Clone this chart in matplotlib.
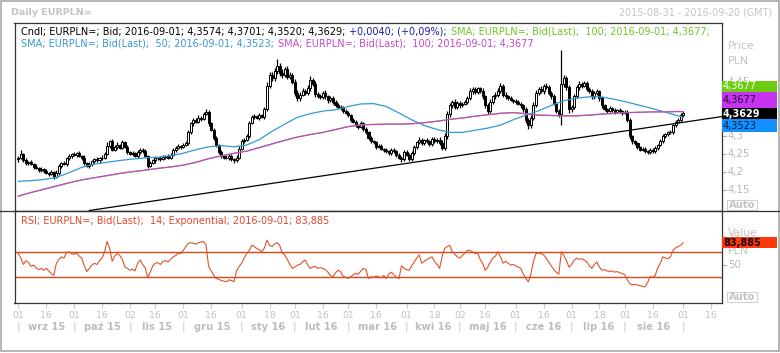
import matplotlib
matplotlib.use("Agg")
import matplotlib.pyplot as plt
from matplotlib.lines import Line2D
from matplotlib.patches import Rectangle
import numpy as np
import pandas as pd

W, H = 780, 353

# trading days shown on the chart (Sep 2015 .. Sep 2016)
dates = pd.bdate_range("2015-09-01", "2016-09-01")
axis_dates = pd.bdate_range("2015-09-01", "2016-09-30")

first_open = 4.235
# daily closes, EUR/PLN bid
closes = [
    4.240, 4.250, 4.232, 4.225, 4.228, 4.222, 4.215, 4.212, 4.205, 4.208, 4.202, 4.198, 4.195, 4.200, 4.186, 4.198,
    4.218, 4.225, 4.222, 4.238, 4.245, 4.250,
    4.248, 4.252, 4.245, 4.240, 4.225, 4.218, 4.222, 4.230, 4.235, 4.232, 4.238, 4.240, 4.250, 4.272, 4.285, 4.262,
    4.270, 4.275, 4.268, 4.282, 4.270, 4.255,
    4.250, 4.252, 4.245, 4.255, 4.262, 4.258, 4.245, 4.218, 4.225, 4.232, 4.238, 4.240, 4.236, 4.242, 4.245, 4.240,
    4.248, 4.262, 4.268, 4.272, 4.270,
    4.275, 4.280, 4.310, 4.335, 4.345, 4.340, 4.350, 4.348, 4.362, 4.368, 4.335, 4.318, 4.295, 4.275, 4.255, 4.245,
    4.240, 4.238, 4.245, 4.235, 4.232, 4.240, 4.265,
    4.285, 4.290, 4.300, 4.335, 4.352, 4.355, 4.350, 4.358, 4.352, 4.375, 4.440, 4.470, 4.460, 4.480, 4.495, 4.475,
    4.470, 4.485, 4.465, 4.470, 4.450,
    4.420, 4.405, 4.415, 4.425, 4.420, 4.432, 4.455, 4.445, 4.418, 4.412, 4.408, 4.420, 4.410, 4.400, 4.405, 4.395,
    4.385, 4.380, 4.378, 4.370, 4.365,
    4.358, 4.345, 4.340, 4.330, 4.325, 4.335, 4.320, 4.310, 4.295, 4.285, 4.282, 4.270, 4.272, 4.265, 4.262, 4.258,
    4.252, 4.262, 4.258, 4.248, 4.240, 4.235, 4.255,
    4.248, 4.236, 4.252, 4.270, 4.282, 4.290, 4.280, 4.288, 4.285, 4.278, 4.292, 4.285, 4.290, 4.280, 4.268, 4.300,
    4.360, 4.385, 4.395, 4.380, 4.392,
    4.385, 4.390, 4.395, 4.405, 4.425, 4.430, 4.422, 4.432, 4.425, 4.410, 4.385, 4.370, 4.395, 4.410, 4.415, 4.425,
    4.440, 4.415, 4.410, 4.405, 4.400, 4.398,
    4.395, 4.390, 4.385, 4.375, 4.345, 4.330, 4.350, 4.385, 4.420, 4.430, 4.425, 4.440, 4.435, 4.420, 4.410, 4.390,
    4.370, 4.360, 4.445, 4.460, 4.435, 4.375,
    4.380, 4.410, 4.435, 4.445, 4.440, 4.448, 4.430, 4.425, 4.410, 4.420, 4.425, 4.405, 4.385, 4.375, 4.370, 4.378,
    4.372, 4.368, 4.372, 4.370, 4.365,
    4.368, 4.345, 4.300, 4.285, 4.280, 4.270, 4.262, 4.265, 4.258, 4.255, 4.262, 4.258, 4.268, 4.275, 4.285, 4.300,
    4.305, 4.310, 4.312, 4.330, 4.340, 4.345, 4.359,
    4.3629,
]
# wick lengths above / below the body, in 0.001 PLN
wick_up = [
    5, 12, 4, 6, 3, 5, 4, 6, 3, 5, 4, 6, 3, 5, 4, 7, 5, 3, 6, 4, 5, 3, 6, 4, 5, 3, 6, 4, 5, 3,
    4, 6, 3, 8, 5, 10, 4, 6, 5, 7, 3, 6, 4, 5, 3, 6, 4, 7, 5, 4, 6, 3, 5, 4, 6, 3, 5, 4, 3, 6,
    4, 5, 3, 6, 4, 5, 7, 6, 5, 6, 4, 7, 5, 6, 8, 4, 5, 3, 6, 4, 5, 3, 6, 4, 5, 3, 6, 8, 6, 5,
    6, 7, 5, 6, 4, 5, 3, 6, 10, 8, 7, 9, 20, 8, 10, 6, 9, 7, 6, 8, 7, 6, 8, 5, 9, 12, 6, 7, 5, 6,
    5, 7, 4, 6, 5, 4, 6, 5, 4, 5, 5, 4, 6, 5, 4, 7, 5, 6, 4, 5, 5, 4, 6, 5, 3, 6, 4, 5, 6, 4,
    5, 4, 6, 5, 4, 6, 5, 4, 7, 5, 4, 6, 5, 4, 5, 4, 6, 8, 7, 10, 8, 6, 7, 5, 6, 4, 5, 6, 7, 5,
    6, 5, 4, 7, 5, 6, 7, 5, 6, 7, 8, 5, 6, 4, 5, 4, 5, 6, 4, 5, 6, 5, 8, 10, 7, 6, 8, 5, 6, 7,
    5, 6, 4, 5, 95, 9, 7, 8, 6, 7, 6, 7, 5, 6, 5, 7, 6, 5, 6, 4, 6, 5, 4, 6, 3, 5, 4, 5, 3, 4,
    5, 6, 4, 5, 4, 3, 5, 4, 3, 5, 4, 5, 3, 6, 5, 4, 5, 6, 4, 5, 6, 5, 7,
]
wick_dn = [
    6, 5, 4, 6, 5, 3, 6, 4, 5, 4, 6, 4, 5, 3, 6, 4, 5, 6, 3, 5, 4, 6, 3, 5, 4, 6, 5, 3, 6, 4,
    5, 3, 6, 4, 5, 4, 6, 5, 3, 6, 4, 5, 3, 6, 4, 5, 3, 6, 4, 5, 4, 7, 5, 3, 6, 4, 5, 3, 6, 4,
    5, 3, 6, 4, 5, 4, 3, 5, 4, 6, 5, 4, 6, 3, 5, 6, 4, 6, 5, 4, 5, 4, 3, 6, 4, 8, 5, 4, 3, 5,
    4, 5, 3, 6, 4, 5, 3, 4, 5, 6, 8, 6, 9, 7, 10, 6, 8, 7, 6, 9, 7, 9, 5, 6, 7, 8, 6, 10, 7, 6,
    5, 6, 7, 5, 6, 4, 5, 6, 5, 4, 6, 5, 4, 6, 5, 4, 7, 5, 6, 4, 5, 6, 4, 5, 6, 4, 5, 4, 6, 5,
    4, 6, 5, 4, 6, 5, 4, 6, 5, 4, 5, 4, 6, 5, 4, 5, 6, 7, 6, 8, 7, 8, 6, 5, 6, 5, 4, 6, 5, 7,
    5, 6, 5, 6, 7, 8, 6, 5, 7, 6, 5, 6, 7, 5, 4, 6, 5, 4, 6, 7, 8, 10, 7, 6, 5, 7, 6, 8, 5, 6,
    7, 5, 6, 8, 30, 9, 8, 10, 7, 6, 5, 6, 7, 5, 6, 5, 7, 6, 5, 8, 6, 5, 6, 4, 5, 6, 4, 5, 6, 5,
    7, 8, 6, 5, 6, 4, 5, 6, 4, 5, 5, 4, 6, 4, 5, 6, 4, 5, 6, 4, 5, 6, 7,
]
# moving averages read every 5 sessions
sma_idx = list(range(0, 261, 5)) + [262]
sma50 = [
    4.174, 4.176, 4.179, 4.185, 4.198, 4.213, 4.222, 4.227, 4.232, 4.236, 4.239, 4.241, 4.245, 4.252, 4.262, 4.270,
    4.273, 4.270, 4.275, 4.290, 4.313, 4.333, 4.352, 4.362, 4.369, 4.373, 4.382, 4.389, 4.390, 4.382, 4.364, 4.345,
    4.329, 4.318, 4.310, 4.310, 4.316, 4.322, 4.330, 4.345, 4.358, 4.370, 4.385, 4.398, 4.405, 4.409, 4.408, 4.402,
    4.394, 4.385, 4.376, 4.366, 4.356, 4.3523,
]
sma100 = [
    4.133, 4.143, 4.152, 4.161, 4.170, 4.178, 4.184, 4.190, 4.196, 4.201, 4.205, 4.210, 4.214, 4.219, 4.227, 4.237,
    4.245, 4.252, 4.258, 4.268, 4.278, 4.288, 4.297, 4.304, 4.310, 4.318, 4.326, 4.331, 4.332, 4.333, 4.333, 4.334,
    4.337, 4.341, 4.346, 4.350, 4.355, 4.359, 4.363, 4.365, 4.362, 4.358, 4.357, 4.356, 4.356, 4.358, 4.361, 4.363,
    4.365, 4.366, 4.367, 4.367, 4.368, 4.3677,
]
rsi = [
    67, 60, 50, 56, 53, 47, 49, 45, 42, 44, 41, 44, 40, 36, 33, 52, 58, 62, 60, 69,
    70, 67, 66, 68, 63, 60, 48, 39, 44, 49, 52, 50, 56, 60, 70, 86, 75, 55, 63, 67,
    64, 58, 46, 44, 41, 43, 40, 52, 57, 50, 45, 30, 38, 48, 52, 53, 50, 55, 56, 54,
    58, 62, 64, 68, 67, 72, 78, 83, 84, 83, 82, 84, 85, 86, 80, 47, 40, 33, 28, 27,
    25, 24, 23, 26, 25, 23, 40, 47, 52, 60, 67, 72, 80, 78, 75, 73, 70, 76, 88, 80,
    78, 82, 84, 80, 68, 65, 58, 50, 44, 46, 49, 50, 54, 57, 50, 44, 46, 47, 44, 45,
    44, 42, 38, 33, 31, 37, 41, 39, 32, 30, 28, 31, 34, 36, 35, 40, 44, 42, 28, 31,
    30, 32, 31, 29, 33, 28, 35, 38, 34, 30, 28, 48, 44, 42, 41, 48, 54, 60, 65, 52,
    55, 58, 60, 62, 55, 50, 44, 62, 75, 78, 80, 70, 66, 62, 60, 64, 68, 72, 72, 70,
    67, 68, 58, 52, 41, 46, 54, 60, 63, 70, 62, 52, 55, 52, 49, 50, 48, 46, 44, 35,
    28, 23, 35, 55, 67, 68, 67, 65, 60, 54, 48, 42, 38, 35, 70, 64, 56, 46, 50, 56,
    60, 58, 59, 57, 54, 48, 44, 50, 54, 46, 41, 42, 40, 39, 40, 38, 39, 37, 36, 34,
    26, 20, 18, 19, 18, 17, 16, 15, 22, 31, 30, 33, 45, 52, 62, 60, 59, 62, 72, 76,
    78, 80, 83.885,
]
# hand-drawn trend line, two anchor points (session index, price)
trend_a = (28.9, 4.094)
trend_b = (277.3, 4.354)

# labels 4,35 and 4,4 sit under the value tags, so only these are visible
price_ticks = [4.15, 4.2, 4.25, 4.3, 4.45]
months_pl = ["sty", "lut", "mar", "kwi", "maj", "cze", "lip", "sie", "wrz", "paź", "lis", "gru"]

GRAY = "#b9b9b9"
LGRAY = "#c4c4c4"
plt.rcParams["font.family"] = ["DejaVu Sans"]


def fx(px):
    return px / W


def fy(py):
    return 1 - py / H


fig = plt.figure(figsize=(W / 100, H / 100), dpi=100)
fig.patch.set_facecolor("white")
renderer = fig.canvas.get_renderer()

L, R, T, M, B = 14.5, 722, 22.7, 210.5, 302.7
ax = fig.add_axes([fx(L), fy(M), fx(R) - fx(L), fy(T) - fy(M)])
rx = fig.add_axes([fx(L), fy(B), fx(R) - fx(L), fy(M) - fy(B)])
xlo, xhi = -1.5, 277.3
for a in (ax, rx):
    a.set_xlim(xlo, xhi)
    a.set_xticks([])
    a.set_yticks([])
    for s in a.spines.values():
        s.set_color("#333333")
        s.set_linewidth(0.9)
ax.set_ylim(4.3 - (M - 136) / 360, 4.3 + (136 - T) / 360)
rx.set_ylim(50 - (B - 264.5) / 0.64, 50 + (264.5 - M) / 0.64)

# candles
idx = np.arange(len(closes))
c = np.array(closes)
o = np.array([first_open] + closes[:-1])
hi = np.maximum(o, c) + np.array(wick_up) / 1000
lo = np.minimum(o, c) - np.array(wick_dn) / 1000
ax.vlines(idx, lo, hi, color="black", lw=0.9, zorder=2)
up = c >= o
ax.bar(idx[up], (c - o)[up], bottom=o[up], width=0.8, color="white", edgecolor="black", lw=0.7, zorder=2)
ax.bar(idx[~up], (o - c)[~up], bottom=c[~up], width=0.8, color="black", edgecolor="black", lw=0.7, zorder=2)

ax.plot(sma_idx, sma50, color="#2f9ad6", lw=0.9, zorder=3)
ax.plot(sma_idx, sma100, color="#7ccc1c", lw=0.9, zorder=3)
ax.plot(sma_idx, sma100, color="#c444d4", lw=0.9, zorder=3)
ax.axline(trend_a, trend_b, color="black", lw=0.9, zorder=3)

# RSI pane
rx.axhline(70, color="#d4481a", lw=1.0)
rx.axhline(30, color="#d4481a", lw=1.0)
rx.plot(idx, rsi, color="#e0532b", lw=0.8)

# pane separator spans the whole width
fig.add_artist(Line2D([0, 1], [fy(M), fy(M)], color="#333333", lw=0.9))


# legends: coloured pieces laid out one after another
def legend_line(x, y, pieces, size=7.0):
    for s, col in pieces:
        t = fig.text(fx(x), fy(y), s, color=col, fontsize=size, va="baseline")
        x = t.get_window_extent(renderer).x1 + 4


legend_line(20.7, 34.5, [
    ("Cndl; EURPLN=; Bid; 2016-09-01; 4,3574; 4,3701; 4,3520; 4,3629;", "black"),
    ("+0,0040; (+0,09%);", "#1c1ca8"),
    ("SMA; EURPLN=; Bid(Last);  100; 2016-09-01; 4,3677;", "#72c424"),
])
legend_line(20.7, 47, [
    ("SMA; EURPLN=; Bid(Last);  50; 2016-09-01; 4,3523;", "#3598d4"),
    ("SMA; EURPLN=; Bid(Last);  100; 2016-09-01; 4,3677", "#c448cc"),
])
legend_line(20.7, 224, [("RSI; EURPLN=; Bid(Last);  14; Exponential; 2016-09-01; 83,885", "#e0482c")])

# header
fig.text(fx(11), fy(12.5), "Daily EURPLN=", color=LGRAY, fontsize=6.8, weight="bold", va="center")
fig.text(fx(772), fy(12.5), "2015-08-31 - 2016-09-20 (GMT)", color=LGRAY, fontsize=6.9,
         ha="right", va="center")

# price axis
ytr = ax.get_yaxis_transform()
for p in price_ticks:
    ax.plot([1, 1 + 4 / (R - L)], [p, p], transform=ytr, color=GRAY, lw=0.8, clip_on=False)
    ax.text(1 + 6 / (R - L), p, f"{p:g}".replace(".", ","), transform=ytr, color=GRAY,
            fontsize=7.3, va="center", ha="left", clip_on=False)
fig.text(fx(728), fy(46), "Price", color=LGRAY, fontsize=7.8, va="center")
fig.text(fx(728), fy(61.5), "PLN", color=LGRAY, fontsize=7.8, va="center")

rtr = rx.get_yaxis_transform()
rx.plot([1, 1 + 4 / (R - L)], [50, 50], transform=rtr, color=GRAY, lw=0.8, clip_on=False)
rx.text(1 + 6 / (R - L), 50, "50", transform=rtr, color=GRAY, fontsize=7.3, va="center", clip_on=False)
fig.text(fx(728), fy(233.5), "Value", color=LGRAY, fontsize=7.8, va="center")
fig.text(fx(728), fy(251), "PLN", color=LGRAY, fontsize=7.8, va="center")


def tag(y0, y1, face, txt, tcol, bold=False):
    fig.add_artist(Rectangle((fx(722), fy(y1)), fx(777) - fx(722), fy(y0) - fy(y1),
                             transform=fig.transFigure, facecolor=face, edgecolor="none", zorder=5))
    fig.text(fx(723), fy((y0 + y1) / 2), txt, color=tcol, fontsize=7.0, va="center",
             weight="bold" if bold else "normal", zorder=6)


tag(80.7, 92.3, "#6ccc10", "4,3677", "white")
tag(92.3, 107.7, "#c634f2", "4,3677", "#2a002a")
tag(107.7, 119.3, "black", "4,3629", "white", bold=True)
tag(119.3, 131.7, "#1290ff", "4,3523", "#001a40")
tag(236.7, 248.3, "#ff3a0a", "83,885", "#1a0000", bold=True)

for ya, yb in ((200, 210.3), (292.3, 302.3)):
    fig.add_artist(Rectangle((fx(727.3), fy(yb)), fx(756.5) - fx(727.3), fy(ya) - fy(yb),
                             transform=fig.transFigure, facecolor="white", edgecolor="#d0d0d0", lw=0.8))
    fig.text(fx(741.9), fy((ya + yb) / 2), "Auto", color=LGRAY, fontsize=7.2, weight="bold",
             ha="center", va="center")

# time axis: first session of each month and first session on/after the 16th
xtr = rx.get_xaxis_transform()
pos = np.arange(len(axis_dates))
ym = axis_dates.year * 12 + axis_dates.month
month_start = [i for i in pos if i == 0 or ym[i] != ym[i - 1]]
mid = [i for i in pos if axis_dates.day[i] >= 16 and (i == 0 or axis_dates.day[i - 1] < 16 or ym[i] != ym[i - 1])]
ticks = sorted(month_start + mid)


def ay(py):
    return -(py - B) / (B - M)


for i in ticks:
    rx.plot([i, i], [ay(304), ay(308)], transform=xtr, color="#cfcfcf", lw=0.8, clip_on=False)
    rx.text(i, ay(315), f"{axis_dates.day[i]:02d}", transform=xtr, color="#c0c0c0",
            fontsize=6.7, ha="center", va="center", clip_on=False)
for k, i in enumerate(month_start):
    rx.text(i, ay(327), "|", transform=xtr, color="#c8c8c8", fontsize=8,
            ha="center", va="center", clip_on=False)
    if k + 1 < len(month_start):
        d = axis_dates[i]
        lab = f"{months_pl[d.month - 1]} {d.year % 100}"
        rx.text((i + month_start[k + 1]) / 2, ay(327), lab, transform=xtr, color="#bdbdbd",
                fontsize=7.1, weight="bold", ha="center", va="center", clip_on=False)

# outer frame
fig.add_artist(Rectangle((fx(1), fy(350.5)), fx(778.5) - fx(1), fy(1) - fy(350.5),
                         transform=fig.transFigure, facecolor="none", edgecolor="#a8a8a8", lw=1.2))

fig.savefig("out.png", dpi=100)
